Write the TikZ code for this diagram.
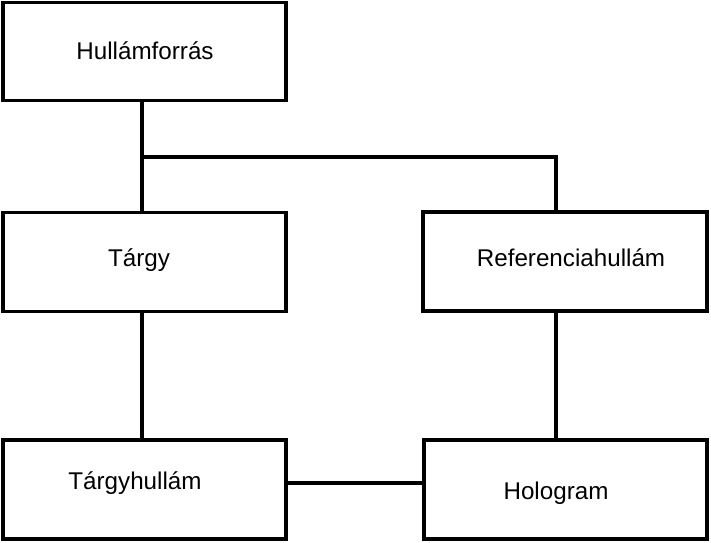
\documentclass[tikz,border=0pt]{standalone}
\usepackage{fontspec}
\setmainfont{Liberation Sans}
\begin{document}
\begin{tikzpicture}[x=1pt,y=-1pt,
  box/.style={draw=black,line width=3.3pt,fill=white,inner sep=0pt},
  lbl/.style={anchor=base,inner sep=0pt,font=\fontsize{24.2}{28}\selectfont},
  conn/.style={draw=black,line width=3.3pt}]
\useasboundingbox (0,0) rectangle (711,542);
% boxes
\node[box,minimum width=283pt,minimum height=98pt] (hf) at (144.5,51.5) {};
\node[box,minimum width=283pt,minimum height=99pt] (tg) at (144.5,262) {};
\node[box,minimum width=284pt,minimum height=99pt] (rf) at (565,261.5) {};
\node[box,minimum width=283pt,minimum height=99pt] (th) at (144.5,489.5) {};
\node[box,minimum width=283pt,minimum height=99pt] (ho) at (565.5,489.5) {};
% labels
\node[lbl] (thf) at (145,59) {Hullámforrás};
\node[lbl] (ttg) at (139,266) {Tárgy};
\node[lbl] (trf) at (571,266) {Referenciahullám};
\node[lbl] (tth) at (135,489) {Tárgyhullám};
\node[lbl] (tho) at (556,499) {Hologram};
% connectors
\coordinate (j1) at (142,157);
\coordinate (j2) at (556,157);
\draw[conn] (hf.south -| j1) -- (tg.north -| j1);
\draw[conn] (j1) -- (j2) -- (rf.north -| j2);
\draw[conn] (tg.south -| j1) -- (th.north -| j1);
\draw[conn] (rf.south -| j2) -- (ho.north -| j2);
\draw[conn] (th.east |- 0,483) -- (ho.west |- 0,483);
\end{tikzpicture}
\end{document}
